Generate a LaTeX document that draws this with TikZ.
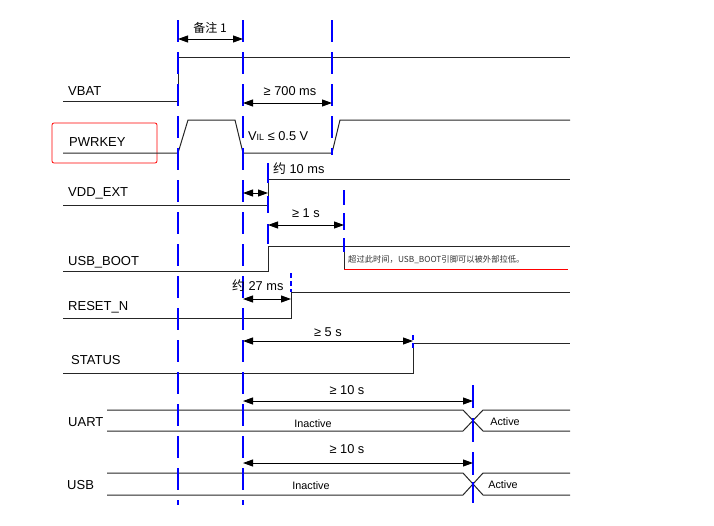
\documentclass[tikz,border=0pt]{standalone}
\usepackage{fontspec}
\setmainfont{Liberation Sans}
\newfontfamily\cjk{Noto Sans CJK SC}
\usetikzlibrary{arrows.meta}
\begin{document}
\begin{tikzpicture}[x=1pt,y=-1pt,
  sig/.style={line width=1pt, black!85},
  marker/.style={blue, line width=2.8pt},
  smallmark/.style={blue, line width=2.2pt, dash pattern=on 5pt off 3pt},
  guide/.style={blue, line width=2.8pt, dash pattern=on 22pt off 10pt},
  dim/.style={line width=0.9pt, {Triangle[length=10pt,width=7pt]}-{Triangle[length=10pt,width=7pt]}},
  lab/.style={font=\fontsize{13}{15}\selectfont, anchor=west, inner sep=0pt},
  val/.style={font=\fontsize{12.8}{14}\selectfont, inner sep=0pt},
  st/.style={font=\fontsize{10.8}{12}\selectfont, inner sep=0pt}]
\useasboundingbox (0,0) rectangle (714,525);

% signal labels
\node[lab] (lvbat) at (68,91) {VBAT};
\node[lab] (lpwr) at (69,142) {PWRKEY};
\node[lab] (lvdd) at (68,193) {VDD\_EXT};
\node[lab] (lboot) at (68,262) {USB\_BOOT};
\node[lab] (lrst) at (68,307) {RESET\_N};
\node[lab] (lstat) at (71,360) {STATUS};
\node[lab] (luart) at (68,422) {UART};
\node[lab] (lusb) at (67,485) {USB};
\draw[red, line width=0.8pt, rounded corners=2pt] (52,123) rectangle (157,163);

% waveforms
\draw[sig] (63,101) -- (178,101) -- (178,57) -- (570,57);
\draw[sig] (63,153) -- (178,153) -- (188,120) -- (235,120) -- (243,153) -- (332,153) -- (340,120) -- (570,120);
\draw[sig] (63,205) -- (268,205) -- (268,179) -- (570,179);
\draw[sig] (63,271) -- (268,271) -- (268,246) -- (570,246);
\draw[sig] (344,246) -- (344,269);
\draw[red, line width=1pt] (344,269) -- (568,269);
\draw[sig] (63,318) -- (291,318) -- (291,292) -- (570,292);
\draw[sig] (63,373) -- (413,373) -- (413,343) -- (570,343);
\draw[sig] (107,410) -- (463,410) -- (483,431) -- (570,431);
\draw[sig] (107,431) -- (463,431) -- (483,410) -- (570,410);
\draw[sig] (107,473) -- (463,473) -- (483,495) -- (570,495);
\draw[sig] (107,495) -- (463,495) -- (483,473) -- (570,473);

% guides and markers
\draw[guide] (178,20) -- (178,505);
\draw[guide] (243,20) -- (243,505);
\draw[guide] (332,20) -- (332,155);
\draw[marker] (268,163) -- (268,183);
\draw[marker] (268,196) -- (268,213);
\draw[marker] (268,224) -- (268,244);
\draw[marker, line width=2.2pt] (344,190) -- (344,205);
\draw[marker, line width=2.2pt] (344,213) -- (344,230);
\draw[marker, line width=2.2pt] (344,238) -- (344,252);
\draw[smallmark] (291,273) -- (291,292);
\draw[smallmark] (413,335) -- (413,350);
\draw[marker] (473,385) -- (473,408);
\draw[marker] (473,418) -- (473,442);
\draw[marker] (473,452) -- (473,475);
\draw[marker] (473,482) -- (473,503);

% dimension arrows
\coordinate (a1) at (178,39);  \coordinate (b1) at (243,39);
\coordinate (a2) at (243,103); \coordinate (b2) at (332,103);
\coordinate (a3) at (243,193); \coordinate (b3) at (268,193);
\coordinate (a4) at (268,225); \coordinate (b4) at (344,225);
\coordinate (a5) at (243,299); \coordinate (b5) at (291,299);
\coordinate (a6) at (243,341); \coordinate (b6) at (413,341);
\coordinate (a7) at (243,401); \coordinate (b7) at (473,401);
\coordinate (a8) at (243,463); \coordinate (b8) at (473,463);
\draw[dim] (a1) -- (b1);
\draw[dim] (a2) -- (b2);
\draw[dim] (a3) -- (b3);
\draw[dim] (a4) -- (b4);
\draw[dim] (a5) -- (b5);
\draw[dim] (a6) -- (b6);
\draw[dim] (a7) -- (b7);
\draw[dim] (a8) -- (b8);

% values
\node[val, font=\cjk\fontsize{12}{14}\selectfont] (t1) at (210,28) {备注 1};
\node[val] (t2) at (290,91) {≥ 700 ms};
\node[val, anchor=west] (t3) at (248,136) {V\raisebox{0pt}{\fontsize{9}{10}\selectfont IL} ≤ 0.5 V};
\node[val, anchor=west] (t4) at (273,169) {{\cjk 约} 10 ms};
\node[val] (t5) at (306,213) {≥ 1 s};
\node[val, anchor=west] (t6) at (232,286) {{\cjk 约} 27 ms};
\node[val] (t7) at (328,332) {≥ 5 s};
\node[val] (t8) at (347,390) {≥ 10 s};
\node[val] (t9) at (347,449) {≥ 10 s};
\node[st] (i1) at (313,424) {Inactive};
\node[st] (i2) at (311,486) {Inactive};
\node[st] (c1) at (505,422) {Active};
\node[st] (c2) at (503,485) {Active};
\node[anchor=west, inner sep=0pt, font=\cjk\fontsize{8.3}{10}\selectfont, text=black!80] (note) at (348,260) {超过此时间，USB\_BOOT引脚可以被外部拉低。};
\end{tikzpicture}
\end{document}
